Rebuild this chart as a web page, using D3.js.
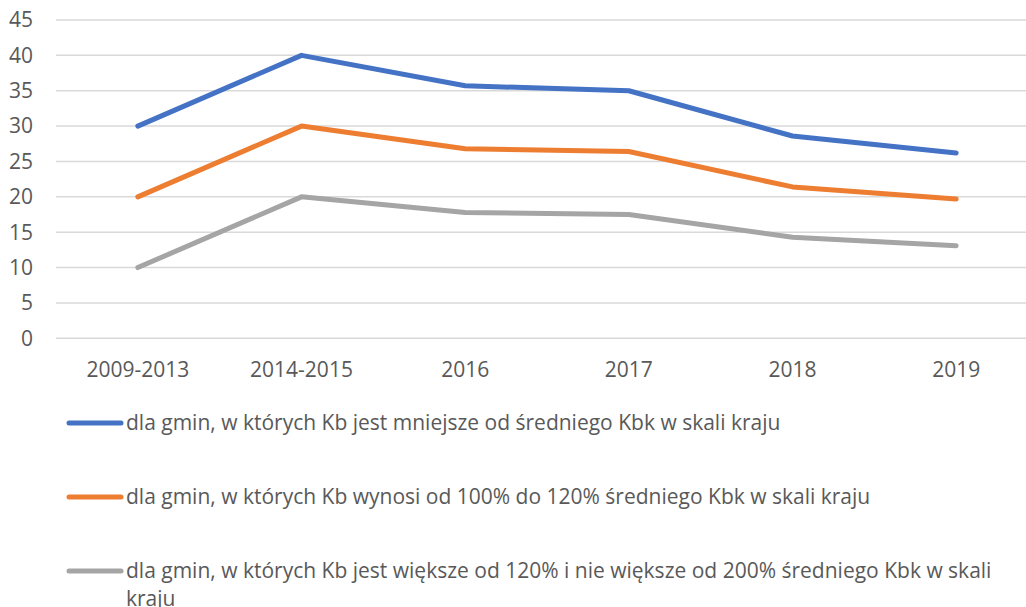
<!DOCTYPE html>
<head>
<meta charset="utf-8">
<style>
body, html {
  margin: 0;
  padding: 0;
  background: #fff;
  font-family: "Open Sans", sans-serif;
}
.grid line {
  stroke: #d9d9d9;
  stroke-width: 1.5;
}
.tick-label {
  fill: #595959;
  font-size: 21px;
}
.legend text {
  fill: #595959;
  font-size: 21px;
}
.series {
  fill: none;
  stroke-width: 5;
  stroke-linecap: round;
  stroke-linejoin: round;
}
</style>
<script src="https://d3js.org/d3.v7.min.js"></script>
</head>
<body>
<script>

// data
var categories = ["2009-2013", "2014-2015", "2016", "2017", "2018", "2019"];
var seriesNames = [
  "dla gmin, w których Kb jest mniejsze od średniego Kbk w skali kraju",
  "dla gmin, w których Kb wynosi od 100% do 120% średniego Kbk w skali kraju",
  "dla gmin, w których Kb jest większe od 120% i nie większe od 200% średniego Kbk w skali kraju"
];
var blueValues   = [30, 40, 35.7, 35.0, 28.6, 26.2];
var orangeValues = [20, 30, 26.8, 26.4, 21.4, 19.7];
var grayValues   = [10, 20, 17.8, 17.5, 14.3, 13.1];
var yTicks = [0, 5, 10, 15, 20, 25, 30, 35, 40, 45];

var colors = ["#4472c4", "#ed7d31", "#a5a5a5"];
var allSeries = [blueValues, orangeValues, grayValues];

//--------------------------------------
var width = 1026,
    height = 607;

var svg = d3.select("body").append("svg")
    .attr("width", width)
    .attr("height", height);

// plot area runs past the right edge, as in the original
var x = d3.scalePoint()
    .domain(categories)
    .range([56, 1038])
    .padding(0.5);

var y = d3.scaleLinear()
    .domain([0, 45])
    .range([338.3, 20]);

// gridlines
svg.append("g")
    .attr("class", "grid")
    .selectAll("line")
    .data(yTicks)
    .enter().append("line")
    .attr("x1", 56)
    .attr("x2", 1038)
    .attr("y1", function(d) { return y(d); })
    .attr("y2", function(d) { return y(d); });

// y labels
svg.append("g")
    .selectAll("text")
    .data(yTicks)
    .enter().append("text")
    .attr("class", "tick-label")
    .attr("x", 33)
    .attr("y", function(d) { return y(d); })
    .attr("dy", "0.35em")
    .attr("text-anchor", "end")
    .text(function(d) { return d; });

// x labels
svg.append("g")
    .selectAll("text")
    .data(categories)
    .enter().append("text")
    .attr("class", "tick-label")
    .attr("x", function(d) { return x(d); })
    .attr("y", 370)
    .attr("dy", "0.35em")
    .attr("text-anchor", "middle")
    .text(function(d) { return d; });

// lines
var line = d3.line()
    .x(function(d, i) { return x(categories[i]); })
    .y(function(d) { return y(d); });

svg.append("g")
    .selectAll("path")
    .data(allSeries)
    .enter().append("path")
    .attr("class", "series")
    .attr("stroke", function(d, i) { return colors[i]; })
    .attr("d", line);

// legend
var legendY = [423, 497, 571];
var legend = svg.append("g").attr("class", "legend");

seriesNames.forEach(function(name, i) {
  var g = legend.append("g");
  g.append("line")
    .attr("x1", 69).attr("x2", 121)
    .attr("y1", legendY[i]).attr("y2", legendY[i])
    .attr("stroke", colors[i])
    .attr("stroke-width", 5)
    .attr("stroke-linecap", "round");

  var text = g.append("text")
    .attr("x", 126)
    .attr("y", legendY[i])
    .attr("dy", "0.35em");

  // wrap long labels
  var words = name.split(" "),
      current = [],
      tspan = text.append("tspan").attr("x", 126);
  words.forEach(function(w) {
    current.push(w);
    tspan.text(current.join(" "));
    if (tspan.node().getComputedTextLength() > 875 && current.length > 1) {
      current.pop();
      tspan.text(current.join(" "));
      current = [w];
      tspan = text.append("tspan")
        .attr("x", 126)
        .attr("dy", "1.3em")
        .text(w);
    }
  });
});

</script>
</body>
</html>
